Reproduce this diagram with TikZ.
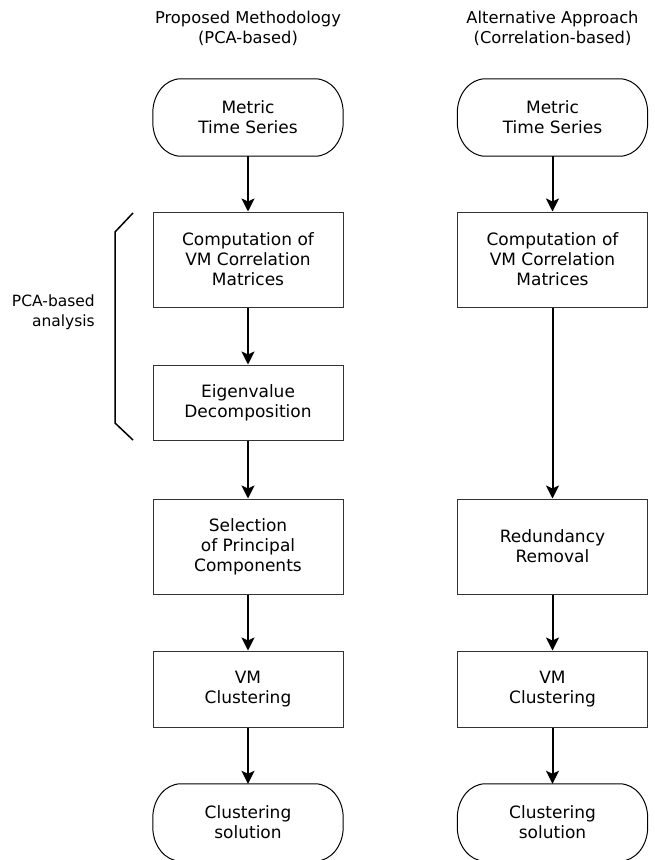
\documentclass[tikz,border=0pt]{standalone}
\usepackage{fontspec}
\setmainfont{DejaVu Sans}
\usetikzlibrary{arrows.meta}
\tikzset{
  txt/.style={font=\fontsize{17}{20}\selectfont, align=center, inner sep=0pt},
  titletxt/.style={font=\fontsize{16.3}{20}\selectfont, align=center, inner sep=0pt},
  labtxt/.style={font=\fontsize{15.5}{20}\selectfont, align=right, inner sep=0pt},
  procbox/.style={txt, draw=black!80, line width=1pt, minimum width=190pt},
  termnode/.style={txt, minimum width=190pt, minimum height=77pt},
  termline/.style={draw=black, line width=1pt},
  flow/.style={line width=2pt, -{Stealth[length=13pt,width=13pt,inset=3pt]}},
  bracketline/.style={line width=1.5pt, line join=miter}
}
\newcommand{\termshape}[1]{%
  \draw[termline] ([xshift=28pt]#1.north west) -- ([xshift=-28pt]#1.north east)
    arc[start angle=90,end angle=0,x radius=28pt,y radius=34pt]
    -- ([yshift=34pt]#1.south east)
    arc[start angle=0,end angle=-90,x radius=28pt,y radius=34pt]
    -- ([xshift=28pt]#1.south west)
    arc[start angle=270,end angle=180,x radius=28pt,y radius=34pt]
    -- ([yshift=-34pt]#1.north west)
    arc[start angle=180,end angle=90,x radius=28pt,y radius=34pt] -- cycle;}
\begin{document}
\begin{tikzpicture}[x=1pt,y=-1pt]
\useasboundingbox (0,0) rectangle (654,860);
% titles
\node[titletxt] (t1) at (248,28) {Proposed Methodology\\(PCA-based)};
\node[titletxt] (t2) at (552.5,28) {Alternative Approach\\(Correlation-based)};
% left column
\node[termnode] (l1) at (248,117.5) {Metric\\Time Series};
\termshape{l1}
\node[procbox, minimum height=95pt] (l2) at (248,259.5) {Computation of\\VM Correlation\\Matrices};
\node[procbox, minimum height=75pt] (l3) at (248,402.5) {Eigenvalue\\Decomposition};
\node[procbox, minimum height=95pt] (l4) at (248,546.5) {Selection\\of Principal\\Components};
\node[procbox, minimum height=76pt] (l5) at (248,689) {VM\\Clustering};
\node[termnode] (l6) at (248,822.5) {Clustering\\solution};
\termshape{l6}
% right column
\node[termnode] (r1) at (552.5,117.5) {Metric\\Time Series};
\termshape{r1}
\node[procbox, minimum height=95pt] (r2) at (552.5,259.5) {Computation of\\VM Correlation\\Matrices};
\node[procbox, minimum height=95pt] (r4) at (552.5,546.5) {Redundancy\\Removal};
\node[procbox, minimum height=76pt] (r5) at (552.5,689) {VM\\Clustering};
\node[termnode] (r6) at (552.5,822.5) {Clustering\\solution};
\termshape{r6}
% arrows
\draw[flow] (l1) -- (l2);
\draw[flow] (l2) -- (l3);
\draw[flow] (l3) -- (l4);
\draw[flow] (l4) -- (l5);
\draw[flow] (l5) -- (l6);
\draw[flow] (r1) -- (r2);
\draw[flow] (r2) -- (r4);
\draw[flow] (r4) -- (r5);
\draw[flow] (r5) -- (r6);
% bracket
\coordinate (bt) at (133,213);
\coordinate (bb) at (133,440);
\draw[bracketline] (bt) -- (115,232) -- (115,423) -- (bb);
\node[labtxt, anchor=east] (lab) at (95,312) {PCA-based\\analysis};
\end{tikzpicture}
\end{document}
